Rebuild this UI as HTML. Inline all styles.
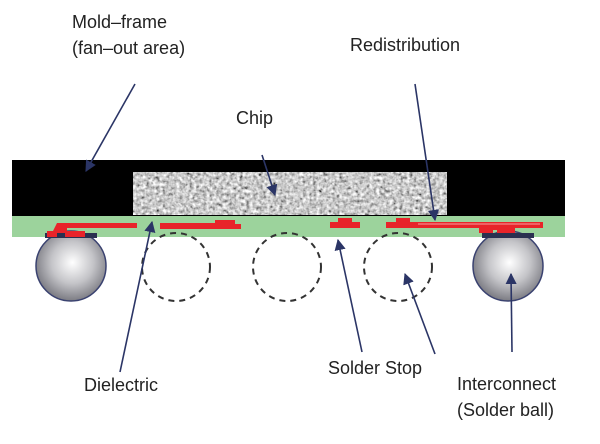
<!DOCTYPE html>
<html><head><style>
html,body{margin:0;padding:0;background:#fff;width:600px;height:444px;overflow:hidden}
text{font-family:"Liberation Sans",sans-serif;font-size:18px;fill:#222}
</style></head><body>
<svg width="600" height="444" viewBox="0 0 600 444" xmlns="http://www.w3.org/2000/svg">
<defs>
<filter id="noise" x="0" y="0" width="100%" height="100%">
<feTurbulence type="fractalNoise" baseFrequency="0.3" numOctaves="2" seed="3"/>
<feColorMatrix type="matrix" values="0.33 0.33 0.33 0 0  0.33 0.33 0.33 0 0  0.33 0.33 0.33 0 0  0 0 0 0 1"/>
<feComponentTransfer><feFuncR type="linear" slope="2.4" intercept="-0.6"/><feFuncG type="linear" slope="2.4" intercept="-0.6"/><feFuncB type="linear" slope="2.4" intercept="-0.6"/></feComponentTransfer>
</filter>
<radialGradient id="ball" cx="0.52" cy="0.45" r="0.6">
<stop offset="0" stop-color="#fff"/><stop offset="0.5" stop-color="#c4c4c8"/><stop offset="1" stop-color="#6d6d75"/>
</radialGradient>
<marker id="ar" viewBox="0 0 10 10" refX="9" refY="5" markerWidth="7" markerHeight="7" orient="auto"><path d="M0,0 L10,5 L0,10 z" fill="#2b3566"/></marker>
</defs>
<rect x="12" y="160" width="553" height="56" fill="#000"/>
<rect x="133" y="172" width="314" height="43" fill="#999" filter="url(#noise)"/>
<rect x="12" y="216" width="553" height="21" fill="#9cd39c"/>
<g fill="none" stroke="#333" stroke-width="2" stroke-dasharray="6,5">
<circle cx="176" cy="267" r="34"/><circle cx="287" cy="267" r="34"/><circle cx="398" cy="267" r="34"/>
</g>
<circle cx="71" cy="266" r="35" fill="url(#ball)" stroke="#3a4270" stroke-width="1.5"/>
<circle cx="508" cy="266" r="35" fill="url(#ball)" stroke="#3a4270" stroke-width="1.5"/>
<rect x="45" y="233" width="52" height="5" fill="#2a3050"/>
<rect x="482" y="233" width="52" height="5" fill="#2a3050"/>
<g fill="#e8242a">
<path d="M57,223 h80 v5 h-70 v3 h18 v6 h-20 v-4 h-8 v4 h-10 v-6 h6 z"/>
<path d="M160,223 h55 v-3 h20 v4 h6 v5 h-81 z"/>
<path d="M330,222 h8 v-4 h14 v4 h8 v6 h-30 z"/>
<path d="M386,222 h10 v-4 h14 v4 h133 v6 h-28 v5 h-18 v-3 h-4 v3 h-14 v-5 h-93 z"/>
</g>
<line x1="418" y1="224" x2="540" y2="224" stroke="#f3a0a0" stroke-width="1"/>
<g stroke="#2b3566" stroke-width="1.6" marker-end="url(#ar)">
<line x1="135" y1="84" x2="86" y2="171"/>
<line x1="262" y1="155" x2="275" y2="195"/>
<line x1="415" y1="84" x2="435" y2="220"/>
<line x1="120" y1="372" x2="152" y2="222"/>
<line x1="362" y1="352" x2="338" y2="240"/>
<line x1="435" y1="354" x2="405" y2="274"/>
<line x1="512" y1="352" x2="511" y2="274"/>
</g>
<text x="72" y="28">Mold–frame</text>
<text x="72" y="54">(fan–out area)</text>
<text x="350" y="51">Redistribution</text>
<text x="236" y="124">Chip</text>
<text x="84" y="391">Dielectric</text>
<text x="328" y="374">Solder Stop</text>
<text x="457" y="390">Interconnect</text>
<text x="457" y="416">(Solder ball)</text>
</svg>
</body></html>
